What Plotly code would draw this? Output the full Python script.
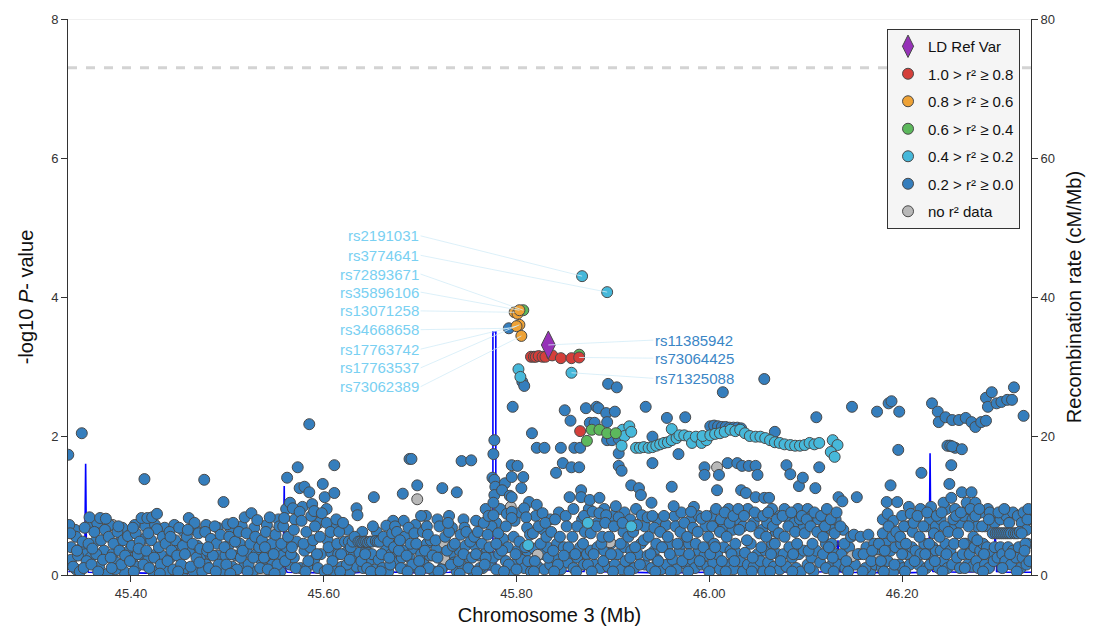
import plotly.graph_objects as go

# ---------------- data (Mb, -log10 P) ----------------
blue_pts = [
 (45.335,1.73),(45.349,2.04),(45.336,0.72),(45.338,0.40),(45.340,0.12),(45.343,0.55),(45.345,0.28),(45.347,0.05),(45.350,0.48),(45.352,0.68),(45.354,0.20),(45.337,0.60),(45.344,0.35),(45.351,0.10),
 (45.357,0.83),(45.368,0.82),(45.374,0.81),(45.356,0.45),(45.359,0.15),(45.362,0.62),(45.364,0.30),(45.366,0.05),(45.369,0.50),(45.371,0.22),(45.373,0.65),(45.360,0.38),
 (45.377,0.55),(45.379,0.25),(45.382,0.45),(45.384,0.08),(45.386,0.62),(45.388,0.35),(45.390,0.15),(45.392,0.50),(45.394,0.28),(45.380,0.10),(45.387,0.70),
 (45.397,0.56),(45.399,0.20),(45.401,0.42),(45.403,0.05),(45.405,0.60),(45.407,0.30),(45.409,0.48),(45.411,0.82),(45.413,0.15),(45.402,0.68),(45.408,0.38),(45.414,1.38),
 (45.417,0.82),(45.422,0.83),(45.427,0.88),(45.427,0.66),(45.416,0.35),(45.419,0.10),(45.421,0.50),(45.424,0.25),(45.429,0.40),(45.431,0.15),(45.433,0.55),(45.418,0.60),(45.430,0.02),
 (45.436,0.45),(45.438,0.20),(45.440,0.62),(45.442,0.35),(45.444,0.08),(45.446,0.50),(45.448,0.28),(45.450,0.68),(45.452,0.15),(45.454,0.42),(45.441,0.55),(45.449,0.05),
 (45.460,0.82),(45.466,0.75),(45.456,0.30),(45.458,0.55),(45.462,0.12),(45.464,0.45),(45.468,0.25),(45.470,0.60),(45.472,0.38),(45.474,0.05),(45.459,0.65),(45.471,0.18),
 (45.476,1.37),(45.477,0.62),(45.479,0.35),(45.481,0.10),(45.483,0.52),(45.485,0.28),(45.487,0.70),(45.489,0.45),(45.491,0.15),(45.493,0.58),(45.480,0.40),(45.488,0.05),
 (45.496,1.05),(45.500,0.73),(45.506,0.75),(45.497,0.40),(45.499,0.15),(45.502,0.55),(45.504,0.30),(45.508,0.48),(45.510,0.08),(45.512,0.62),(45.514,0.25),(45.503,0.02),
 (45.518,0.83),(45.525,0.89),(45.531,0.79),(45.516,0.35),(45.520,0.60),(45.522,0.15),(45.524,0.45),(45.527,0.25),(45.529,0.55),(45.533,0.40),(45.534,0.10),(45.521,0.05),
 (45.544,0.83),(45.536,0.50),(45.538,0.25),(45.540,0.62),(45.542,0.08),(45.546,0.45),(45.548,0.30),(45.550,0.58),(45.552,0.15),(45.554,0.70),(45.539,0.40),(45.549,0.02),
 (45.562,1.40),(45.565,1.04),(45.568,0.96),(45.573,1.55),(45.575,1.25),(45.575,0.91),(45.556,0.45),(45.558,0.70),(45.560,0.20),(45.563,0.55),(45.566,0.30),(45.569,0.65),(45.571,0.10),(45.559,0.82),(45.567,0.40),
 (45.580,1.27),(45.585,1.19),(45.585,2.17),(45.577,0.78),(45.579,0.45),(45.582,0.62),(45.584,0.20),(45.587,0.85),(45.589,0.50),(45.591,0.70),(45.593,0.30),(45.581,0.05),(45.590,0.92),
 (45.599,1.31),(45.601,1.12),(45.611,1.18),(45.611,1.58),(45.598,0.89),(45.596,0.55),(45.603,0.75),(45.605,0.40),(45.607,0.62),(45.609,0.20),(45.613,0.80),(45.604,0.08),(45.614,0.45),
 (45.634,0.96),(45.635,0.86),(45.616,0.62),(45.618,0.30),(45.620,0.75),(45.622,0.48),(45.624,0.15),(45.626,0.48),(45.628,0.40),(45.630,0.48),(45.632,0.55),(45.617,0.05),(45.627,0.22),
 (45.652,1.12),(45.636,0.48),(45.638,0.48),(45.640,0.47),(45.642,0.48),(45.644,0.48),(45.646,0.47),(45.648,0.48),(45.650,0.48),(45.654,0.49),(45.639,0.20),(45.645,0.10),(45.651,0.70),(45.643,0.30),(45.649,0.05),
 (45.665,0.71),(45.656,0.48),(45.658,0.48),(45.660,0.30),(45.662,0.55),(45.667,0.48),(45.669,0.15),(45.671,0.60),(45.673,0.40),(45.659,0.05),(45.668,0.25),(45.674,0.70),
 (45.682,1.17),(45.689,1.67),(45.691,1.67),(45.676,0.62),(45.678,0.35),(45.680,0.10),(45.684,0.55),(45.686,0.28),(45.688,0.68),(45.690,0.45),(45.692,0.15),(45.694,0.60),(45.679,0.50),(45.687,0.05),
 (45.701,0.85),(45.697,1.29),(45.696,0.45),(45.699,0.20),(45.703,0.62),(45.705,0.35),(45.707,0.70),(45.709,0.10),(45.711,0.50),(45.713,0.28),(45.700,0.05),(45.708,0.58),
 (45.723,1.25),(45.733,0.68),(45.716,0.50),(45.718,0.25),(45.720,0.70),(45.722,0.08),(45.726,0.55),(45.728,0.35),(45.730,0.62),(45.732,0.15),(45.734,0.42),(45.719,0.05),(45.729,0.75),
 (45.738,1.19),(45.743,1.64),(45.753,1.65),(45.746,0.68),(45.736,0.45),(45.740,0.20),(45.742,0.58),(45.745,0.30),(45.748,0.62),(45.750,0.10),(45.752,0.48),(45.754,0.25),(45.741,0.02),
 (45.774,0.70),(45.756,0.55),(45.758,0.30),(45.760,0.62),(45.762,0.10),(45.764,0.45),(45.766,0.75),(45.768,0.25),(45.770,0.58),(45.772,0.40),(45.759,0.05),(45.767,0.15),(45.771,0.85),
 (45.777,1.94),(45.776,1.74),(45.775,1.40),(45.777,1.37),(45.778,1.27),(45.777,1.15),(45.776,1.04),(45.776,0.86),(45.788,1.32),(45.785,1.22),(45.793,1.14),(45.795,1.12),(45.795,0.91),(45.795,0.82),(45.795,1.58),(45.795,1.41),(45.781,0.60),(45.785,0.35),(45.789,0.70),(45.792,0.15),(45.779,0.45),(45.787,0.05),(45.792,3.55),
 (45.796,2.42),(45.801,1.57),(45.807,1.41),(45.805,1.25),(45.806,2.78),(45.808,2.72),(45.808,0.96),(45.810,0.83),(45.811,0.68),(45.797,0.55),(45.799,0.30),(45.803,0.48),(45.812,0.20),(45.814,0.58),(45.800,0.08),(45.809,0.40),
 (45.816,2.04),(45.821,1.83),(45.829,1.83),(45.821,1.01),(45.827,0.89),(45.817,0.60),(45.819,0.20),(45.823,0.70),(45.825,0.45),(45.831,0.55),(45.833,0.25),(45.818,0.05),(45.830,0.75),
 (45.841,1.47),(45.848,1.61),(45.846,1.83),(45.850,2.37),(45.856,2.22),(45.857,1.55),(45.855,1.12),(45.836,0.62),(45.838,0.35),(45.840,0.80),(45.843,0.15),(45.845,0.55),(45.852,0.70),(45.854,0.40),(45.839,0.05),(45.849,0.28),
 (45.860,1.83),(45.866,1.83),(45.865,1.55),(45.872,2.40),(45.876,2.19),(45.867,1.22),(45.867,1.12),(45.858,0.55),(45.861,0.30),(45.863,0.70),(45.869,0.45),(45.871,0.62),(45.874,0.15),(45.862,0.05),(45.870,0.85),
 (45.881,2.19),(45.883,2.42),(45.885,2.40),(45.893,2.33),(45.894,2.20),(45.895,2.75),(45.876,1.08),(45.886,1.11),(45.879,0.91),(45.886,0.89),(45.893,0.86),(45.894,1.94),(45.877,0.60),(45.880,0.30),(45.883,0.70),(45.888,0.45),(45.890,0.20),(45.892,0.75),(45.878,0.05),(45.889,0.55),
 (45.899,1.94),(45.906,1.96),(45.904,2.70),(45.902,2.35),(45.906,1.75),(45.906,1.57),(45.909,1.50),(45.903,0.99),(45.906,0.83),(45.896,0.55),(45.898,0.30),(45.901,0.70),(45.908,0.45),(45.911,0.62),(45.913,0.20),(45.900,0.05),(45.910,0.75),
 (45.919,1.29),(45.927,1.25),(45.929,1.15),(45.930,0.86),(45.934,2.42),(45.916,0.55),(45.918,0.25),(45.921,0.62),(45.923,0.40),(45.925,0.72),(45.932,0.50),(45.917,0.05),(45.928,0.15),
 (45.936,0.83),(45.941,0.85),(45.940,1.04),(45.941,1.61),(45.953,0.85),(45.941,1.99),(45.937,0.55),(45.939,0.30),(45.943,0.68),(45.945,0.45),(45.947,0.20),(45.949,0.62),(45.951,0.40),(45.944,0.05),
 (45.956,2.26),(45.961,1.27),(45.963,0.99),(45.968,1.74),(45.975,2.27),(45.957,0.55),(45.959,0.30),(45.965,0.70),(45.967,0.45),(45.970,0.62),(45.972,0.20),(45.974,0.75),(45.960,0.05),
 (45.984,0.98),(45.981,0.91),(45.992,0.81),(45.995,1.55),(45.995,1.44),(45.977,0.55),(45.979,0.30),(45.983,0.68),(45.986,0.45),(45.988,0.62),(45.990,0.20),(45.994,0.40),(45.978,0.05),
 (46.010,1.44),(46.014,2.63),(46.008,1.22),(45.997,0.85),(45.999,0.55),(46.001,0.30),(46.003,0.70),(46.005,0.45),(46.007,0.95),(46.011,0.62),(46.013,0.20),(46.000,0.05),(46.006,0.40),(46.012,0.80),
 (46.001,2.14),(46.005,2.15),(46.009,2.14),(46.013,2.13),(46.017,2.13),(46.021,2.12),(46.025,2.12),(46.029,2.12),(46.033,2.11),
 (46.019,1.61),(46.029,1.61),(46.034,1.57),(46.033,1.22),(46.016,0.90),(46.018,0.55),(46.021,0.75),(46.023,0.30),(46.025,0.85),(46.027,0.45),(46.031,0.65),(46.017,0.05),(46.026,0.20),(46.030,0.95),
 (46.041,1.57),(46.048,1.57),(46.038,1.18),(46.048,1.12),(46.050,1.44),(46.036,0.85),(46.039,0.50),(46.043,0.70),(46.045,0.25),(46.047,0.90),(46.052,0.60),(46.054,0.40),(46.044,0.05),
 (46.057,2.82),(46.057,1.11),(46.062,1.11),(46.056,0.85),(46.059,0.55),(46.061,0.90),(46.064,0.30),(46.066,0.70),(46.068,0.45),(46.070,0.80),(46.072,0.60),(46.074,0.20),(46.063,0.05),(46.068,2.06),
 (46.080,1.58),(46.084,1.45),(46.093,1.28),(46.076,0.85),(46.078,0.55),(46.082,0.70),(46.085,0.90),(46.087,0.30),(46.089,0.62),(46.091,0.45),(46.094,0.80),(46.086,0.05),
 (46.097,1.40),(46.111,2.27),(46.110,1.25),(46.114,1.55),(46.096,0.85),(46.099,0.60),(46.101,0.80),(46.103,0.35),(46.105,0.70),(46.107,0.45),(46.109,0.90),(46.112,0.62),(46.104,0.10),
 (46.134,1.12),(46.116,0.85),(46.118,0.55),(46.120,0.70),(46.122,0.95),(46.124,0.40),(46.126,0.80),(46.128,0.25),(46.130,0.60),(46.132,0.90),(46.121,0.10),(46.129,0.05),
 (46.138,1.06),(46.153,1.12),(46.148,2.42),(46.136,0.70),(46.140,0.45),(46.142,0.20),(46.147,0.55),(46.150,0.58),(46.154,0.30),(46.144,0.05),
 (46.174,2.35),(46.157,0.55),(46.160,0.30),(46.162,0.10),(46.165,0.58),(46.168,0.20),(46.171,0.45),(46.159,0.05),(46.169,0.35),
 (46.186,2.47),(46.189,2.50),(46.188,1.29),(46.184,1.05),(46.195,1.05),(46.176,0.45),(46.178,0.20),(46.180,0.60),(46.182,0.35),(46.186,0.70),(46.190,0.55),(46.192,0.15),(46.194,0.62),(46.181,0.05),
 (46.197,2.35),(46.196,1.80),(46.207,0.98),(46.209,0.88),(46.198,0.55),(46.200,0.30),(46.202,0.70),(46.204,0.45),(46.211,0.62),(46.213,0.20),(46.203,0.05),(46.212,0.75),
 (46.220,1.47),(46.230,0.98),(46.231,2.47),(46.216,0.85),(46.218,0.55),(46.222,0.70),(46.224,0.30),(46.226,0.90),(46.228,0.45),(46.233,0.60),(46.221,0.05),(46.234,0.20),
 (46.237,2.35),(46.238,2.20),(46.245,2.27),(46.252,2.23),(46.249,1.86),(46.255,1.83),(46.251,1.58),(46.249,1.31),(46.243,1.04),(46.251,1.11),(46.247,1.86),(46.250,1.86),(46.252,1.85),(46.236,0.85),(46.239,0.55),(46.241,0.90),(46.244,0.70),(46.246,0.30),(46.248,0.62),(46.253,0.80),(46.242,0.05),
 (46.259,2.23),(46.262,1.81),(46.262,1.19),(46.266,2.26),(46.267,1.04),(46.272,2.20),(46.272,1.19),(46.276,2.13),(46.276,1.04),(46.256,0.85),(46.258,0.60),(46.261,0.90),(46.264,0.45),(46.269,0.70),(46.271,0.95),(46.274,0.55),(46.265,0.10),
 (46.282,2.20),(46.287,2.22),(46.287,2.55),(46.289,2.42),(46.293,2.63),(46.276,0.85),(46.278,0.50),(46.280,0.95),(46.283,0.70),(46.285,0.30),(46.291,0.90),(46.294,0.60),(46.284,0.05),(46.290,0.80),
 (46.298,2.47),(46.303,2.49),(46.309,2.52),(46.314,2.52),(46.316,2.70),(46.297,0.60),(46.299,0.60),(46.301,0.60),(46.303,0.60),(46.305,0.60),(46.307,0.60),(46.309,0.60),(46.311,0.60),(46.313,0.60),(46.300,0.90),(46.306,0.95),(46.312,0.30),(46.304,0.10),
 (46.326,2.29),(46.316,0.60),(46.318,0.60),(46.320,0.60),(46.322,0.62),(46.324,0.60),(46.326,0.90),(46.328,0.45),(46.330,0.80),(46.332,0.20),(46.319,0.05),(46.327,0.35),(46.331,0.95),
]
# extra low-signal variants filling the dense band near the baseline
blue_low_pts = [
 (45.338,.22),(45.343,.08),(45.348,.38),(45.353,.30),(45.358,.25),(45.363,.48),(45.367,.12),(45.372,.35),(45.376,.02),(45.381,.30),
 (45.385,.18),(45.389,.48),(45.393,.05),(45.398,.35),(45.402,.25),(45.406,.12),(45.410,.30),(45.414,.52),(45.418,.22),(45.423,.05),
 (45.426,.30),(45.432,.28),(45.437,.05),(45.441,.25),(45.445,.30),(45.449,.45),(45.453,.02),(45.457,.10),(45.461,.35),(45.465,.05),
 (45.469,.42),(45.473,.28),(45.478,.15),(45.482,.30),(45.486,.48),(45.490,.28),(45.494,.05),(45.498,.28),(45.501,.42),(45.505,.12),
 (45.509,.28),(45.513,.45),(45.517,.12),(45.521,.32),(45.526,.05),(45.530,.30),(45.535,.22),(45.539,.10),(45.543,.28),(45.547,.15),
 (45.551,.35),(45.555,.05),(45.557,.28),(45.561,.40),(45.565,.15),(45.569,.25),(45.572,.48),(45.576,.10),(45.580,.35),(45.583,.12),
 (45.586,.40),(45.590,.22),(45.594,.10),(45.597,.30),(45.601,.05),(45.604,.50),(45.608,.32),(45.612,.05),(45.615,.30),(45.619,.12),
 (45.623,.32),(45.627,.05),(45.631,.28),(45.634,.12),(45.637,.32),(45.641,.10),(45.644,.35),(45.647,.20),(45.650,.30),(45.653,.08),
 (45.657,.22),(45.661,.10),(45.664,.35),(45.667,.05),(45.670,.30),(45.674,.18),(45.677,.45),(45.681,.25),(45.683,.35),(45.685,.08),
 (45.689,.25),(45.693,.38),(45.697,.10),(45.701,.30),(45.704,.15),(45.707,.45),(45.710,.28),(45.714,.05),(45.717,.38),(45.721,.25),
 (45.724,.12),(45.727,.45),(45.731,.30),(45.735,.18),(45.738,.05),(45.741,.35),(45.744,.12),(45.747,.42),(45.751,.25),(45.755,.05),
 (45.757,.42),(45.761,.28),(45.765,.10),(45.769,.38),(45.773,.15),(45.776,.25),(45.779,.08),(45.782,.30),(45.786,.52),(45.789,.20),
 (45.791,.40),(45.794,.05),(45.798,.15),(45.801,.35),(45.805,.22),(45.808,.10),(45.811,.35),(45.815,.05),(45.818,.38),(45.822,.12),
 (45.826,.30),(45.829,.08),(45.832,.40),(45.835,.15),(45.839,.25),(45.842,.45),(45.846,.08),(45.849,.40),(45.853,.18),(45.856,.32),
 (45.859,.10),(45.863,.25),(45.866,.40),(45.870,.15),(45.873,.30),(45.877,.35),(45.881,.15),(45.884,.40),(45.887,.10),(45.891,.35),
 (45.895,.12),(45.898,.45),(45.902,.15),(45.905,.30),(45.909,.08),(45.912,.40),(45.915,.18),(45.919,.35),(45.922,.10),(45.926,.30),
 (45.929,.45),(45.933,.15),(45.936,.28),(45.940,.10),(45.943,.35),(45.946,.22),(45.950,.08),(45.953,.40),(45.956,.15),(45.959,.45),
 (45.962,.22),(45.966,.08),(45.969,.35),(45.972,.45),(45.976,.15),(45.979,.45),(45.982,.22),(45.985,.10),(45.989,.35),(45.992,.15),
 (45.995,.28),(45.998,.12),(46.002,.42),(46.004,.18),(46.008,.30),(46.011,.08),(46.015,.40),(46.018,.15),(46.022,.35),(46.025,.08),
 (46.028,.32),(46.032,.20),(46.035,.05),(46.037,.32),(46.040,.15),(46.043,.45),(46.046,.12),(46.050,.30),(46.053,.20),(46.056,.05),
 (46.058,.35),(46.061,.18),(46.065,.45),(46.067,.12),(46.071,.30),(46.073,.08),(46.077,.30),(46.080,.12),(46.083,.40),(46.086,.25),
 (46.090,.10),(46.093,.30),(46.095,.05),(46.098,.35),(46.102,.15),(46.106,.25),(46.108,.05),(46.111,.35),(46.115,.18),(46.118,.30),
 (46.121,.45),(46.125,.12),(46.127,.45),(46.131,.30),(46.134,.15),(46.137,.30),(46.141,.10),(46.145,.40),(46.151,.15),(46.156,.30),
 (46.163,.40),(46.167,.05),(46.172,.15),(46.177,.30),(46.179,.10),(46.183,.45),(46.185,.20),(46.188,.35),(46.191,.05),(46.193,.40),
 (46.197,.15),(46.199,.45),(46.201,.10),(46.205,.30),(46.208,.15),(46.210,.40),(46.214,.35),(46.217,.15),(46.219,.30),(46.223,.45),
 (46.225,.10),(46.227,.30),(46.229,.15),(46.232,.40),(46.235,.35),(46.238,.10),(46.240,.35),(46.243,.20),(46.245,.45),(46.247,.10),
 (46.250,.35),(46.252,.15),(46.254,.45),(46.257,.25),(46.260,.10),(46.263,.30),(46.266,.45),(46.268,.15),(46.270,.30),(46.273,.12),
 (46.275,.40),(46.277,.20),(46.279,.10),(46.281,.35),(46.284,.45),(46.286,.15),(46.288,.40),(46.290,.10),(46.292,.30),(46.295,.20),
 (46.296,.40),(46.299,.25),(46.302,.40),(46.304,.30),(46.307,.20),(46.310,.40),(46.313,.15),(46.315,.35),(46.318,.25),(46.321,.40),
 (46.323,.10),(46.325,.25),(46.329,.15),(46.330,.45),
]
# upper edge of the dense band
blue_mid_pts = [
 (45.342,.65),(45.355,.70),(45.365,.75),(45.378,.72),(45.391,.68),(45.404,.72),(45.415,.70),(45.425,.72),(45.435,.68),(45.445,.72),
 (45.455,.62),(45.467,.65),(45.478,.72),(45.490,.68),(45.503,.68),(45.515,.70),(45.528,.68),(45.541,.72),(45.553,.80),(45.561,.95),
 (45.570,.80),(45.578,.98),(45.588,1.02),(45.595,.75),(45.603,.95),(45.612,.68),(45.625,.65),(45.640,.62),(45.655,.62),(45.672,.78),
 (45.683,.78),(45.695,.72),(45.706,.85),(45.718,.80),(45.730,.85),(45.745,.80),(45.758,.78),(45.768,.95),(45.779,.75),(45.783,.95),
 (45.790,.88),(45.798,.78),(45.804,.90),(45.813,1.05),(45.820,.85),(45.828,.65),(45.835,.80),(45.844,.90),(45.851,.85),(45.859,.95),
 (45.868,.80),(45.875,.95),(45.884,.75),(45.891,.95),(45.900,.85),(45.912,.90),(45.918,.80),(45.924,.95),(45.933,.70),(45.946,.80),
 (45.955,.72),(45.964,.85),(45.971,.90),(45.980,.78),(45.989,.85),(45.996,.70),(46.002,.85),(46.009,.72),(46.015,.70),(46.020,.95),
 (46.024,.65),(46.028,.80),(46.035,.70),(46.040,.95),(46.046,.75),(46.051,.85),(46.055,.65),(46.060,.75),(46.065,.95),(46.069,.62),
 (46.073,.85),(46.078,.95),(46.083,.80),(46.088,.75),(46.092,.95),(46.098,.70),(46.102,.95),(46.106,.85),(46.113,.80),(46.117,.65),
 (46.123,.75),(46.127,.65),(46.131,.80),(46.139,.65),(46.180,.80),(46.185,.88),(46.191,.78),(46.200,.85),(46.206,.70),(46.214,.80),
 (46.219,.95),(46.225,.70),(46.229,.80),(46.235,.70),(46.240,.80),(46.246,.95),(46.251,.70),(46.255,.95),(46.260,.75),(46.264,.85),
 (46.268,.95),(46.273,.80),(46.278,.70),(46.282,.90),(46.286,.70),(46.289,.95),(46.293,.80),(46.296,.75),(46.302,.80),(46.308,.85),
 (46.311,.75),(46.315,.90),(46.320,.85),(46.324,.75),(46.329,.65),(46.333,.80),
]
lightblue_pts = [
 (45.868,4.30),(45.894,4.07),(45.857,2.91),(45.802,2.96),(45.804,2.85),(45.874,0.75),(45.919,0.70),(45.812,0.43),
 (45.910,2.09),(45.912,2.00),(45.917,2.14),(45.919,2.06),(45.909,1.86),(45.924,1.83),(45.928,1.83),(45.932,1.84),(45.937,1.83),
 (45.941,1.84),(45.945,1.86),(45.949,1.88),(45.953,1.90),(45.957,1.91),(45.961,1.94),(45.961,2.10),(45.966,1.97),(45.969,2.01),
 (45.974,2.01),(45.979,1.99),(45.982,1.90),(45.986,1.99),(45.992,1.90),(45.997,1.94),(45.993,2.00),(46.001,2.01),(46.006,2.03),
 (46.011,2.04),(46.016,2.06),(46.022,2.09),(46.027,2.07),(46.032,2.09),(46.037,2.04),(46.042,2.00),(46.048,1.99),(46.053,1.99),
 (46.058,1.97),(46.063,1.94),(46.068,1.91),(46.073,1.90),(46.078,1.88),(46.084,1.87),(46.089,1.86),(46.094,1.86),(46.099,1.87),
 (46.104,1.90),(46.109,1.88),(46.114,1.90),(46.128,1.94),(46.133,1.87),(46.126,1.77),(46.130,1.70),
]
green_pts = [(45.807,3.81),(45.865,3.17),(45.873,1.93),(45.878,2.09),(45.886,2.09),(45.894,2.04),(45.903,2.04)]
orange_pts = [(45.798,3.78),(45.801,3.76),(45.803,3.81),(45.803,3.60),(45.800,3.58),(45.805,3.44)]
red_pts = [(45.815,3.14),(45.818,3.14),(45.820,3.14),(45.823,3.15),(45.827,3.14),(45.830,3.14),(45.837,3.16),
           (45.846,3.12),(45.857,3.12),(45.865,3.13),(45.866,2.07)]
gray_pts = [(45.381,0.72),(45.545,0.62),(45.537,0.03),(45.697,1.09),(45.725,0.46),(45.725,0.23),(45.794,0.98),
            (45.822,0.29),(45.897,0.47),(46.008,1.55),(46.148,0.27),(46.175,0.45),(46.175,0.22),(46.238,0.72)]
ref_var = (45.833, 3.31)

# recombination rate (cM/Mb)
recomb_x = [45.335,45.350,45.352,45.353,45.354,45.356,45.40,45.45,45.50,45.53,45.556,45.558,45.559,45.560,45.562,
            45.60,45.62,45.65,45.70,45.73,45.76,45.774,45.7755,45.7755,45.7785,45.7785,45.781,45.80,45.801,45.802,
            45.84,45.87,45.8735,45.875,45.90,45.95,46.00,46.05,46.10,46.130,46.1335,46.135,46.138,46.20,46.226,
            46.228,46.229,46.230,46.232,46.26,46.290,46.2925,46.295,46.2965,46.298,46.31,46.334]
recomb_y = [0.5,0.5,1.0,16.0,1.0,0.4,0.3,0.2,0.3,0.4,0.5,1.0,12.8,1.0,0.4,
            0.3,0.2,0.5,0.3,0.4,0.6,0.8,0.8,35.0,35.0,0.8,0.6,0.5,5.0,0.5,
            0.6,0.5,3.0,0.5,0.4,0.3,0.4,0.5,0.4,0.5,5.0,0.5,0.4,0.3,0.4,
            1.0,17.5,1.0,0.5,0.4,0.5,4.3,0.6,6.5,0.5,0.4,0.4]

# labels: (rsid, point x, point y, label x, label y)
left_labels = [
 ("rs2191031", 45.868, 4.30, 45.7005, 4.88),
 ("rs3774641", 45.894, 4.07, 45.7005, 4.60),
 ("rs72893671", 45.807, 3.81, 45.7005, 4.33),
 ("rs35896106", 45.803, 3.81, 45.7005, 4.07),
 ("rs13071258", 45.798, 3.78, 45.7005, 3.80),
 ("rs34668658", 45.792, 3.55, 45.7005, 3.53),
 ("rs17763742", 45.800, 3.58, 45.7005, 3.25),
 ("rs17763537", 45.803, 3.60, 45.7005, 2.98),
 ("rs73062389", 45.805, 3.44, 45.7005, 2.71),
]
right_labels = [
 ("rs11385942", 45.833, 3.31, 45.942, 3.38),
 ("rs73064425", 45.865, 3.13, 45.942, 3.12),
 ("rs71325088", 45.857, 2.91, 45.942, 2.83),
]
x_ticks = [45.40, 45.60, 45.80, 46.00, 46.20]
x_ticktext = ["45.40", "45.60", "45.80", "46.00", "46.20"]

FONT = "Liberation Sans, Arial, Helvetica, sans-serif"
OUTLINE = dict(color="#4a4a4a", width=1)
MS = 11

fig = go.Figure()
fig.add_trace(go.Scatter(x=recomb_x, y=recomb_y, mode="lines", yaxis="y",
                         line=dict(color="#0000ff", width=1.6), showlegend=False, hoverinfo="skip"))

def pts(trace_pts, color, name, rank, symbol="circle", size=MS, show=True):
    xs = [p[0] for p in trace_pts]
    ys = [p[1] for p in trace_pts]
    fig.add_trace(go.Scatter(x=xs, y=ys, mode="markers", yaxis="y2", name=name,
                             legendrank=rank, legendgroup=name, showlegend=show,
                             marker=dict(color=color, size=size, symbol=symbol, line=OUTLINE)))

pts(blue_low_pts, "#357ebd", "0.2 > r² ≥ 0.0", 6, show=False)
pts(gray_pts, "#b8b8b8", "no r² data", 7)
pts(blue_mid_pts, "#357ebd", "0.2 > r² ≥ 0.0", 6, show=False)
pts(blue_pts, "#357ebd", "0.2 > r² ≥ 0.0", 6)
pts(lightblue_pts, "#46b8da", "0.4 > r² ≥ 0.2", 5)
pts(green_pts, "#5cb85c", "0.6 > r² ≥ 0.4", 4)
pts(orange_pts, "#eea236", "0.8 > r² ≥ 0.6", 3)
pts(red_pts, "#d43f3a", "1.0 > r² ≥ 0.8", 2)
pts([ref_var], "#9632b8", "LD Ref Var", 1, symbol="diamond-tall", size=20)

annotations = []
for name, px, py, lx, ly in left_labels:
    annotations.append(dict(x=px, y=py, xref="x", yref="y2", ax=lx, ay=ly, axref="x", ayref="y2",
                            text=name, showarrow=True, arrowhead=0, arrowwidth=0.8, arrowcolor="#d3ecf7",
                            standoff=0, startstandoff=0, xanchor="right", yanchor="middle",
                            font=dict(family=FONT, size=15, color="#79d0f2")))
for name, px, py, lx, ly in right_labels:
    annotations.append(dict(x=px, y=py, xref="x", yref="y2", ax=lx, ay=ly, axref="x", ayref="y2",
                            text=name, showarrow=True, arrowhead=0, arrowwidth=0.8, arrowcolor="#d3ecf7",
                            standoff=0, startstandoff=0, xanchor="left", yanchor="middle",
                            font=dict(family=FONT, size=15, color="#3a86c6")))

shapes = [
    dict(type="line", xref="paper", x0=0, x1=1, yref="y2", y0=7.3, y1=7.3,
         line=dict(color="#d3d3d3", width=3, dash="dash"), layer="below"),
    dict(type="line", xref="paper", x0=0, x1=1, yref="y2", y0=8, y1=8,
         line=dict(color="#e2e2e2", width=1), layer="below"),
]

# the page body adds an 8px offset; size the figure so the plot area lands where the reference has it
axis_font = dict(family=FONT, size=13, color="#333")
fig.update_layout(
    width=1089, height=622,
    margin=dict(l=60, r=66, t=11, b=55, autoexpand=False),
    paper_bgcolor="white", plot_bgcolor="white",
    font=dict(family=FONT),
    xaxis=dict(range=[45.3347, 46.3337], tickvals=x_ticks, ticktext=x_ticktext, showgrid=False, zeroline=False,
               showline=True, linecolor="#333", linewidth=1, ticks="outside", ticklen=6, tickcolor="#333",
               tickfont=axis_font, anchor="y", automargin=False,
               title=dict(text="Chromosome 3 (Mb)", font=dict(family=FONT, size=20, color="#111"), standoff=8)),
    yaxis=dict(range=[0, 80], tickvals=[0, 20, 40, 60, 80], side="right", showgrid=False, zeroline=False,
               showline=True, linecolor="#333", linewidth=1, ticks="outside", ticklen=6, tickcolor="#333",
               tickfont=axis_font, automargin=False,
               title=dict(text="Recombination rate (cM/Mb)", font=dict(family=FONT, size=20, color="#111"), standoff=12)),
    yaxis2=dict(range=[0, 8], tickvals=[0, 2, 4, 6, 8], side="left", overlaying="y", showgrid=False, zeroline=False,
                showline=True, linecolor="#333", linewidth=1, ticks="outside", ticklen=6, tickcolor="#333",
                tickfont=axis_font, automargin=False,
                title=dict(text="-log10 <i>P</i>- value", font=dict(family=FONT, size=20, color="#111"), standoff=12)),
    legend=dict(x=0.9886, y=0.982, xanchor="right", yanchor="top", bgcolor="#f5f5f5", bordercolor="#333",
                borderwidth=1, font=dict(family=FONT, size=15, color="#111"), tracegroupgap=5,
                itemwidth=30),
    annotations=annotations, shapes=shapes, showlegend=True,
)

fig.write_html("out.html")
